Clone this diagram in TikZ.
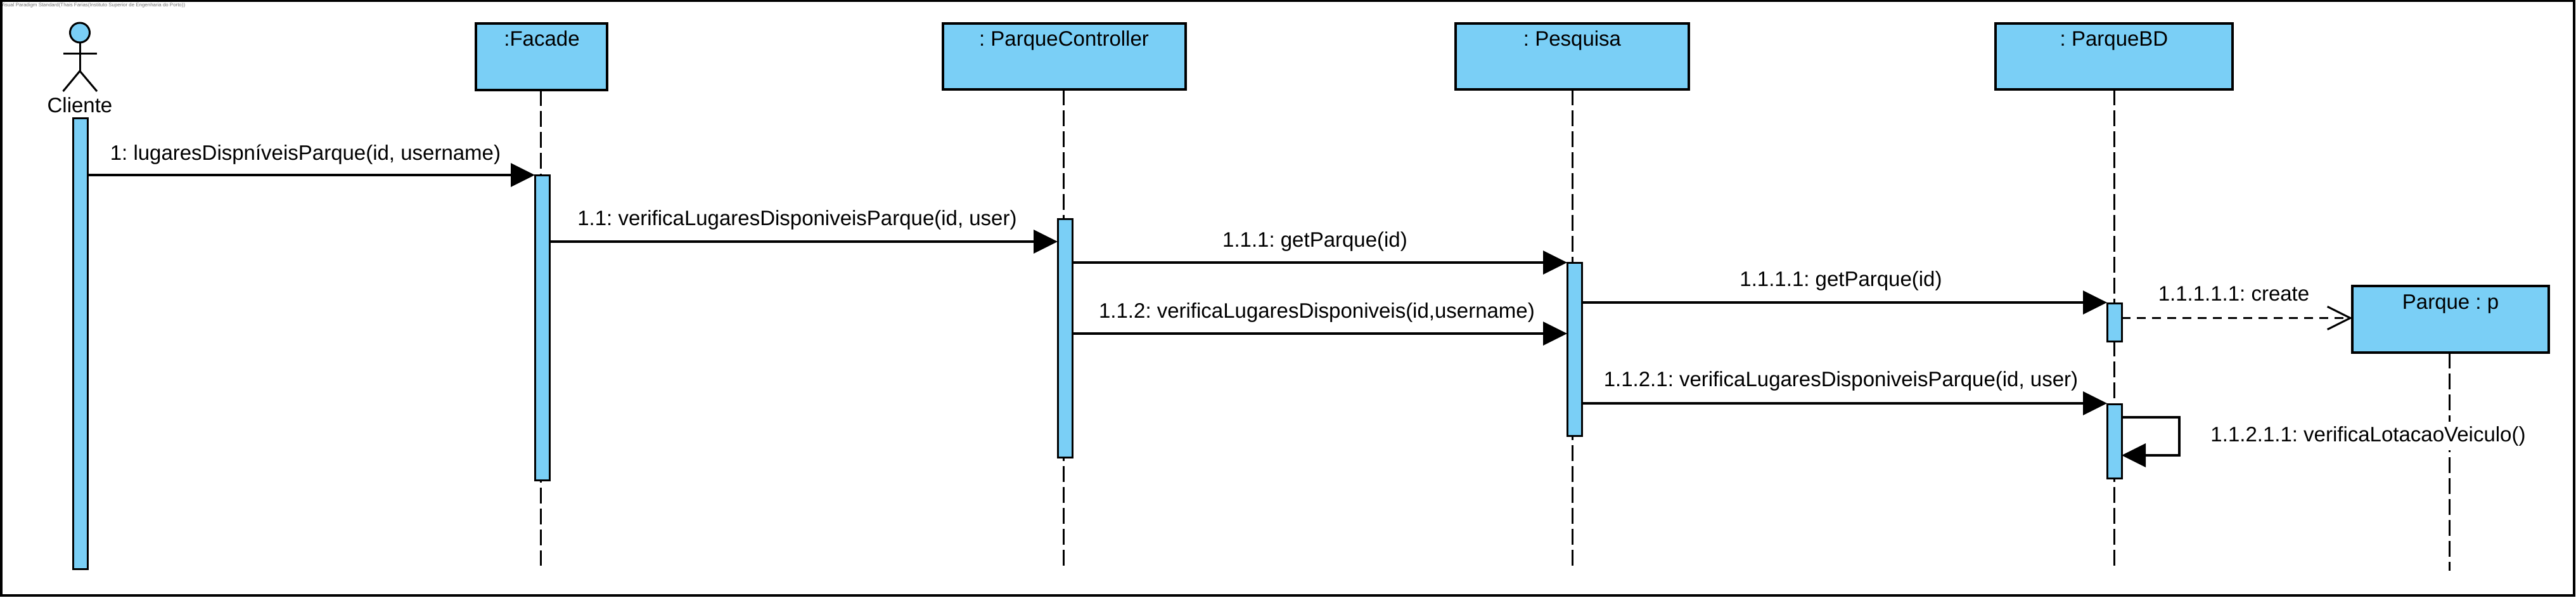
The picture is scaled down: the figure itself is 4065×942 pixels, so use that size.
\documentclass[tikz,border=0pt]{standalone}
\usepackage{fontspec}
\setmainfont{Liberation Sans}
\usetikzlibrary{arrows.meta}
\definecolor{umlblue}{HTML}{7ACFF6}
\frenchspacing
\tikzset{
  objbox/.style={draw=black,fill=umlblue,line width=3.5pt,anchor=north west,inner sep=0pt,outer sep=0pt,text depth=0pt},
  boxtext/.style={font=\frenchspacing\fontsize{33}{33}\selectfont,inner sep=0pt,anchor=base},
  actbar/.style={draw=black,fill=umlblue,line width=3pt,anchor=north west,inner sep=0pt,outer sep=0pt,minimum width=23pt},
  lifeline/.style={draw=black,line width=3pt,dash pattern=on 25pt off 8pt},
  msg/.style={draw=black,line width=3.2pt,-{Triangle[length=38pt,width=37pt,black]}},
  createmsg/.style={draw=black,line width=3.2pt,dash pattern=on 14pt off 10pt,-{Straight Barb[length=36pt,width=36pt,line width=3pt,black]}},
  msgtext/.style={font=\frenchspacing\fontsize{33}{33}\selectfont,inner sep=0pt,anchor=base},
  actorline/.style={draw=black,line width=3pt}
}
\begin{document}
\begin{tikzpicture}[x=1pt,y=-1pt]
\useasboundingbox (0,0) rectangle (4065,942);
\fill[white] (0,0) rectangle (4065,942);
% watermark
\node[anchor=west,inner sep=0pt,text=black!55,font=\frenchspacing\fontsize{7.9}{8}\selectfont] (wm) at (1,8) {Visual Paradigm Standard(Thais Farias(Instituto Superior de Engenharia do Porto))};
% objects
\node[objbox,minimum width=207pt,minimum height=105pt] (fac) at (751,37) {};
\node[objbox,minimum width=383pt,minimum height=104pt] (ctl) at (1488,37) {};
\node[objbox,minimum width=368pt,minimum height=104pt] (pes) at (2297,37) {};
\node[objbox,minimum width=374pt,minimum height=104pt] (bd) at (3149,37) {};
\node[objbox,minimum width=310pt,minimum height=105pt] (pq) at (3712,451) {};
\node[boxtext] (facT) at (855,72) {:Facade};
\node[boxtext] (ctlT) at (1679,72) {: ParqueController};
\node[boxtext] (pesT) at (2481,72) {: Pesquisa};
\node[boxtext] (bdT) at (3336,72) {: ParqueBD};
\node[boxtext] (pqT) at (3867,487) {Parque : p};
% lifeline ends
\coordinate (facE) at (853,892);
\coordinate (ctlE) at (1678,892);
\coordinate (pesE) at (2481,892);
\coordinate (bdE) at (3336.5,892);
\coordinate (pqE) at (3865,900);
\draw[lifeline] (facE |- fac.south) -- (facE);
\draw[lifeline] (ctlE |- ctl.south) -- (ctlE);
\draw[lifeline] (pesE |- pes.south) -- (pesE);
\draw[lifeline] (bdE |- bd.south) -- (bdE);
\draw[lifeline] (pqE |- pq.south) -- (pqE);
% actor
\node[draw=black,fill=umlblue,line width=3pt,circle,minimum size=31pt,inner sep=0pt,outer sep=0pt] (head) at (126,51.5) {};
\coordinate (armL) at (99.5,84);
\coordinate (armR) at (153,84);
\coordinate (hip) at (126,112);
\coordinate (legL) at (99.5,144);
\coordinate (legR) at (153,144);
\draw[actorline] (head.south) -- (hip);
\draw[actorline] (armL) -- (armR);
\draw[actorline] (legL) -- (hip) -- (legR);
\node[boxtext] (cliT) at (126,177) {Cliente};
% activations
\node[actbar,minimum height=711pt] (a0) at (115,186) {};
\node[actbar,minimum height=481pt] (a1) at (844,276) {};
\node[actbar,minimum height=376pt] (a2) at (1669,345) {};
\node[actbar,minimum height=273pt] (a3) at (2473,414) {};
\node[actbar,minimum height=60pt] (a4) at (3325,478) {};
\node[actbar,minimum height=117pt] (a5) at (3325,637) {};
% messages
\draw[msg] (a0.east |- 0,276) -- (a1.west |- 0,276);
\node[msgtext] at (482,252) {1: lugaresDispníveisParque(id, username)};
\draw[msg] (a1.east |- 0,381) -- (a2.west |- 0,381);
\node[msgtext] at (1258,355) {1.1: verificaLugaresDisponiveisParque(id, user)};
\draw[msg] (a2.east |- 0,414) -- (a3.west |- 0,414);
\node[msgtext] at (2075,389) {1.1.1: getParque(id)};
\draw[msg] (a2.east |- 0,526) -- (a3.west |- 0,526);
\node[msgtext] at (2078,501) {1.1.2: verificaLugaresDisponiveis(id,username)};
\draw[msg] (a3.east |- 0,477) -- (a4.west |- 0,477);
\node[msgtext] at (2905,451) {1.1.1.1: getParque(id)};
\draw[msg] (a3.east |- 0,636) -- (a5.west |- 0,636);
\node[msgtext] at (2905,609) {1.1.2.1: verificaLugaresDisponiveisParque(id, user)};
\draw[createmsg] (a4.east |- 0,501.5) -- (pq.west |- 0,501.5);
\node[msgtext] at (3525,474) {1.1.1.1.1: create};
\coordinate (selfA) at (3439,658);
\coordinate (selfB) at (3439,718);
\draw[msg] (a5.east |- selfA) -- (selfA) -- (selfB) -- (a5.east |- selfB);
\node[msgtext,fill=white,inner ysep=7pt,inner xsep=2pt] (selfT) at (3737,696) {1.1.2.1.1: verificaLotacaoVeiculo()};
% frame
\draw[black,line width=4pt] (1.5,1.5) rectangle (4062,939);
\end{tikzpicture}
\end{document}
